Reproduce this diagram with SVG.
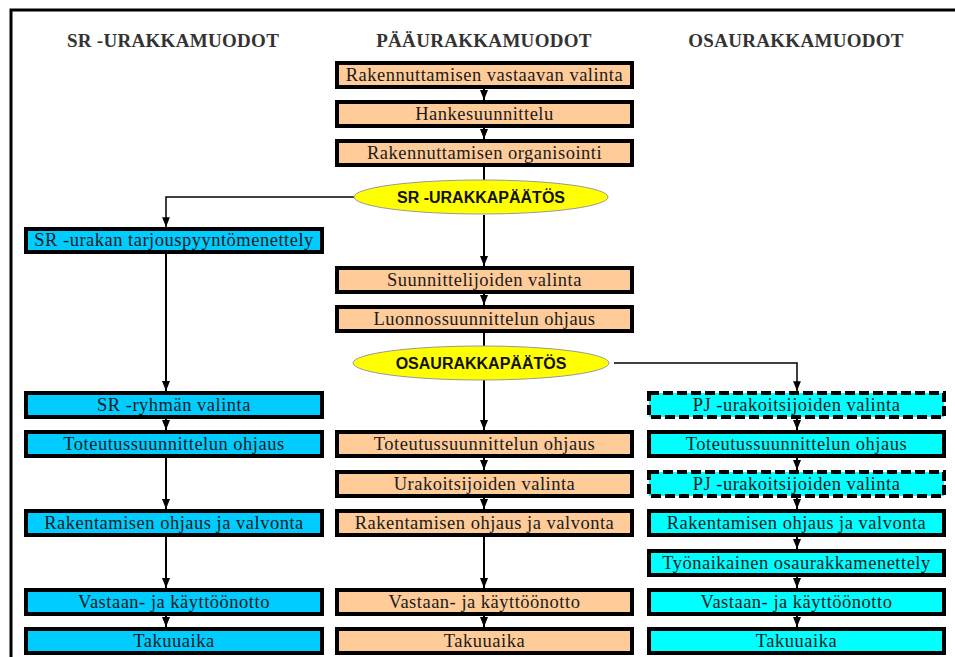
<svg xmlns="http://www.w3.org/2000/svg" width="955" height="657" viewBox="0 0 955 657">
<defs>
<style>
.head{font-family:"Liberation Serif","Times New Roman",serif;font-weight:bold;font-size:19px;letter-spacing:0.3px;fill:#333;text-anchor:middle}
.bx{stroke:#000;stroke-width:4}
.p{fill:#FFCC99}
.b{fill:#00CCFF}
.c{fill:#00FFFF}
.d{stroke-dasharray:10 4}
.t{font-family:"Liberation Serif","Times New Roman",serif;font-size:18.5px;letter-spacing:0.5px;fill:#1a1a1a;text-anchor:middle}
.el{fill:#FFFF00;stroke:#999;stroke-width:1}
.et{font-family:"Liberation Sans",Arial,sans-serif;font-weight:bold;font-size:16px;fill:#111;text-anchor:middle}
.ln{stroke:#000;stroke-width:2;fill:none}
.ar{stroke:#000;stroke-width:2;fill:none;marker-end:url(#ah)}
.art{stroke:#000;stroke-width:1.5;fill:none;marker-end:url(#ah2)}
</style>
<marker id="ah" viewBox="0 0 10 8" refX="10" refY="4" markerWidth="5" markerHeight="4" orient="auto" markerUnits="strokeWidth">
<path d="M0,0 L10,4 L0,8 z" fill="#000"/>
</marker>
<marker id="ah2" viewBox="0 0 10 8" refX="10" refY="4" markerWidth="6.5" markerHeight="5.2" orient="auto" markerUnits="strokeWidth">
<path d="M0,0 L10,4 L0,8 z" fill="#000"/>
</marker>
</defs>
<rect width="955" height="657" fill="#fff"/>
<path d="M11,657 L11,10 L955,10" stroke="#000" stroke-width="3" fill="none"/>

<g id="headings">
<text class="head" x="173" y="47">SR -URAKKAMUODOT</text>
<text class="head" x="484" y="47">PÄÄURAKKAMUODOT</text>
<text class="head" x="796" y="47">OSAURAKKAMUODOT</text>
</g>

<g id="connectors">
<line class="ar" x1="484" y1="87" x2="484" y2="100"/>
<line class="ar" x1="484" y1="127" x2="484" y2="139"/>
<line class="ln" x1="484" y1="166" x2="484" y2="181"/>
<line class="ar" x1="484" y1="215" x2="484" y2="266"/>
<line class="ar" x1="484" y1="292" x2="484" y2="305"/>
<line class="ln" x1="484" y1="332" x2="484" y2="346"/>
<line class="ar" x1="484" y1="380" x2="484" y2="430"/>
<line class="ar" x1="484" y1="457" x2="484" y2="470"/>
<line class="ar" x1="484" y1="497" x2="484" y2="509"/>
<line class="ar" x1="484" y1="536" x2="484" y2="588"/>
<line class="ar" x1="484" y1="615" x2="484" y2="627"/>
<path class="art" d="M354,197 L166,197 L166,227"/>
<line class="ar" x1="166" y1="251" x2="166" y2="391"/>
<line class="ar" x1="166" y1="418" x2="166" y2="430"/>
<line class="ar" x1="166" y1="458" x2="166" y2="509"/>
<line class="ar" x1="166" y1="536" x2="166" y2="588"/>
<line class="ar" x1="166" y1="615" x2="166" y2="627"/>
<path class="art" d="M614,363 L797,363 L797,391"/>
<line class="ar" x1="797" y1="418" x2="797" y2="430"/>
<line class="ar" x1="797" y1="458" x2="797" y2="470"/>
<line class="ar" x1="797" y1="498" x2="797" y2="509"/>
<line class="ar" x1="797" y1="535" x2="797" y2="549"/>
<line class="ar" x1="797" y1="575" x2="797" y2="588"/>
<line class="ar" x1="797" y1="615" x2="797" y2="627"/>
</g>

<g id="m1"><rect class="bx p" x="337" y="63" width="295" height="24"/><text class="t" x="484.5" y="81">Rakennuttamisen vastaavan valinta</text></g>
<g id="m2"><rect class="bx p" x="337" y="102" width="295" height="24"/><text class="t" x="484.5" y="120">Hankesuunnittelu</text></g>
<g id="m3"><rect class="bx p" x="337" y="141" width="295" height="24"/><text class="t" x="484.5" y="159">Rakennuttamisen organisointi</text></g>
<g id="e1"><ellipse class="el" cx="481" cy="197" rx="127" ry="17"/><text class="et" x="481" y="202.5">SR -URAKKAPÄÄTÖS</text></g>
<g id="m4"><rect class="bx p" x="337" y="268" width="295" height="24"/><text class="t" x="484.5" y="286">Suunnittelijoiden valinta</text></g>
<g id="m5"><rect class="bx p" x="337" y="307" width="295" height="24"/><text class="t" x="484.5" y="325">Luonnossuunnittelun ohjaus</text></g>
<g id="e2"><ellipse class="el" cx="481" cy="363" rx="128" ry="17"/><text class="et" x="481" y="368.5">OSAURAKKAPÄÄTÖS</text></g>
<g id="m6"><rect class="bx p" x="337" y="432" width="295" height="24"/><text class="t" x="484.5" y="450">Toteutussuunnittelun ohjaus</text></g>
<g id="m7"><rect class="bx p" x="337" y="472" width="295" height="24"/><text class="t" x="484.5" y="490">Urakoitsijoiden valinta</text></g>
<g id="m8"><rect class="bx p" x="337" y="511" width="295" height="24"/><text class="t" x="484.5" y="529">Rakentamisen ohjaus ja valvonta</text></g>
<g id="m9"><rect class="bx p" x="337" y="590" width="295" height="24"/><text class="t" x="484.5" y="608">Vastaan- ja käyttöönotto</text></g>
<g id="m10"><rect class="bx p" x="337" y="629" width="295" height="24"/><text class="t" x="484.5" y="647">Takuuaika</text></g>

<g id="l1"><rect class="bx b" x="26" y="229" width="296" height="23"/><text class="t" x="174" y="246">SR -urakan tarjouspyyntömenettely</text></g>
<g id="l2"><rect class="bx b" x="26" y="393" width="296" height="24"/><text class="t" x="174" y="411">SR -ryhmän valinta</text></g>
<g id="l3"><rect class="bx b" x="26" y="432" width="296" height="24"/><text class="t" x="174" y="450">Toteutussuunnittelun ohjaus</text></g>
<g id="l4"><rect class="bx b" x="26" y="511" width="296" height="24"/><text class="t" x="174" y="529">Rakentamisen ohjaus ja valvonta</text></g>
<g id="l5"><rect class="bx b" x="26" y="590" width="296" height="24"/><text class="t" x="174" y="608">Vastaan- ja käyttöönotto</text></g>
<g id="l6"><rect class="bx b" x="26" y="629" width="296" height="24"/><text class="t" x="174" y="647">Takuuaika</text></g>

<g id="r1"><rect class="bx c d" x="649" y="393" width="295" height="24"/><text class="t" x="796.5" y="411">PJ -urakoitsijoiden valinta</text></g>
<g id="r2"><rect class="bx c" x="649" y="432" width="295" height="24"/><text class="t" x="796.5" y="450">Toteutussuunnittelun ohjaus</text></g>
<g id="r3"><rect class="bx c d" x="649" y="472" width="295" height="24"/><text class="t" x="796.5" y="490">PJ -urakoitsijoiden valinta</text></g>
<g id="r4"><rect class="bx c" x="649" y="511" width="295" height="24"/><text class="t" x="796.5" y="529">Rakentamisen ohjaus ja valvonta</text></g>
<g id="r5"><rect class="bx c" x="649" y="551" width="295" height="24"/><text class="t" x="796.5" y="569">Työnaikainen osaurakkamenettely</text></g>
<g id="r6"><rect class="bx c" x="649" y="590" width="295" height="24"/><text class="t" x="796.5" y="608">Vastaan- ja käyttöönotto</text></g>
<g id="r7"><rect class="bx c" x="649" y="629" width="295" height="24"/><text class="t" x="796.5" y="647">Takuuaika</text></g>
</svg>
